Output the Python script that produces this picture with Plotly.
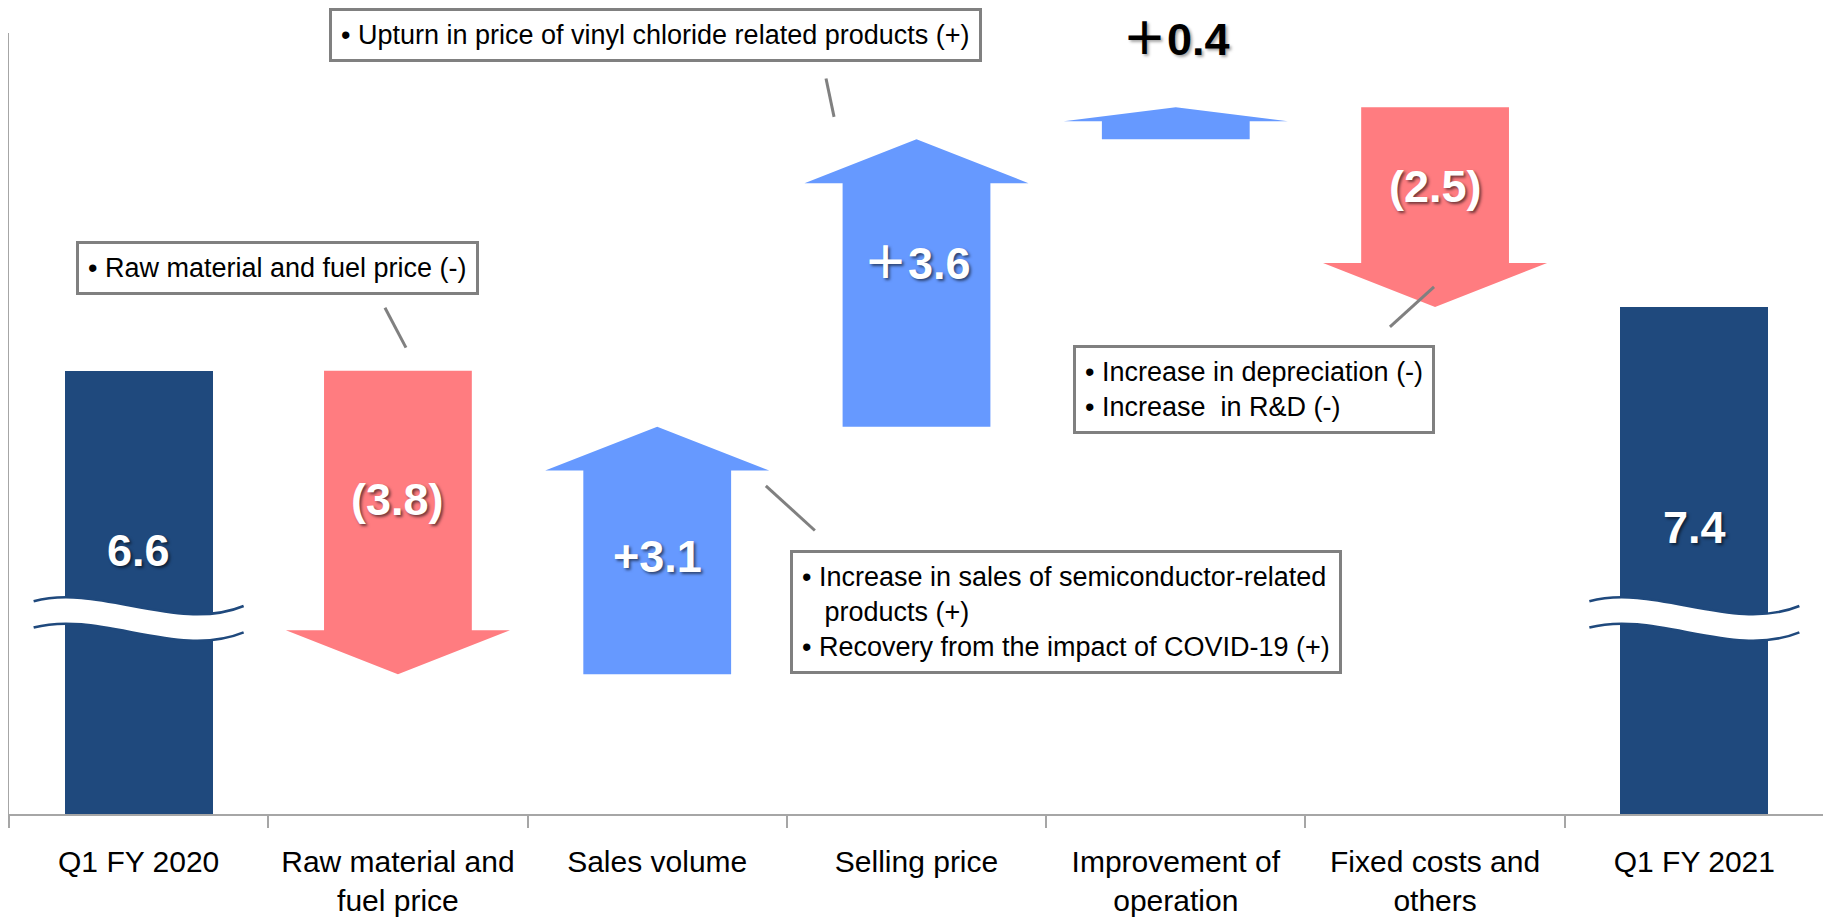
import plotly.graph_objects as go

# ---- data -------------------------------------------------------------
categories = [
    "Q1 FY 2020",
    "Raw material and<br>fuel price",
    "Sales volume",
    "Selling price",
    "Improvement of<br>operation",
    "Fixed costs and<br>others",
    "Q1 FY 2021",
]
start_value = 6.6
end_value = 7.4
changes = [-3.8, 3.1, 3.6, 0.4, -2.5]
value_labels = ["6.6", "(3.8)", "+3.1", "＋3.6", "＋0.4", "(2.5)", "7.4"]

callouts = [
    "• Raw material and fuel price (-)",
    "• Upturn in price of vinyl chloride related products (+)",
    "• Increase in sales of semiconductor-related<br>"
    "\u00a0\u00a0 products (+)<br>• Recovery from the impact of COVID-19 (+)",
    "• Increase in depreciation (-)<br>• Increase \u00a0in R&amp;D (-)",
]

# ---- style ------------------------------------------------------------
NAVY = "#1F497D"
UP = "#6699FF"
DOWN = "#FF7C80"
GRAY = "#808080"
AXIS = "#A6A6A6"
FONT = "Liberation Sans, Arial, Noto Sans CJK JP, sans-serif"

BAR_W = 0.57
SHAFT = 0.285
WING = 0.432
HEAD = 0.55

# label positions (y in axis units) and callout placement
label_y = [4.35, 4.99, 4.28, 7.94, 10.75, 8.91, 4.64]
callout_pos = [(0.534, 7.89, "center"), (1.993, 10.80, "center"),
               (2.512, 3.58, "left"), (4.303, 6.36, "center")]
leaders = [((0.950, 7.39), (1.031, 6.89)), ((2.651, 10.26), (2.682, 9.78)),
           ((2.419, 5.16), (2.608, 4.60)), ((4.996, 7.65), (4.826, 7.15))]
break_y = 3.55

fig = go.Figure()

# start / end bars (axis is broken, bars run below the visible range)
fig.add_trace(go.Bar(
    x=[0, len(categories) - 1], y=[start_value, end_value], width=BAR_W,
    marker=dict(color=NAVY, line=dict(width=0)),
    hoverinfo="skip", showlegend=False,
))

# arrows for each change
level = start_value
for i, d in enumerate(changes):
    cx = i + 1
    end = level + d
    sgn = 1 if d > 0 else -1
    hl = min(HEAD, 0.44 * abs(d))
    neck = end - sgn * hl
    xs = [cx - SHAFT, cx - SHAFT, cx - WING, cx, cx + WING, cx + SHAFT, cx + SHAFT, cx - SHAFT]
    ys = [level, neck, neck, end, neck, neck, level, level]
    fig.add_trace(go.Scatter(
        x=xs, y=ys, mode="lines", fill="toself",
        fillcolor=UP if d > 0 else DOWN, line=dict(width=0),
        hoverinfo="skip", showlegend=False,
    ))
    level = end

# value labels
shadow = "2px 2px 3px rgba(0,0,0,0.55)"
for i, txt in enumerate(value_labels):
    dark = i == 4
    fig.add_annotation(
        x=i, y=label_y[i], text=txt, showarrow=False,
        font=dict(family=FONT, size=45, weight="bold",
                  color="black" if dark else "white",
                  shadow="2px 2px 3px rgba(0,0,0,0.35)" if dark else shadow),
    )

# callout boxes
for txt, (x, y, al) in zip(callouts, callout_pos):
    fig.add_annotation(
        x=x, y=y, text=txt, showarrow=False, align="left",
        xanchor=al, yanchor="middle",
        font=dict(family=FONT, size=27, color="black"),
        bgcolor="white", bordercolor=GRAY, borderwidth=3, borderpad=9,
    )

for (x0, y0), (x1, y1) in leaders:
    fig.add_shape(type="line", x0=x0, y0=y0, x1=x1, y1=y1,
                  line=dict(color=GRAY, width=3))


# axis break marks on the two total bars
def wave(cx, y0):
    w = 0.405
    return (f"M{cx - w},{y0} C{cx - 0.15},{y0 + 0.22} {cx + 0.15},{y0 - 0.40} "
            f"{cx + w},{y0 - 0.06}")


def wave_back(cx, y0):
    w = 0.405
    return (f"L{cx + w},{y0 - 0.06} C{cx + 0.15},{y0 - 0.40} {cx - 0.15},{y0 + 0.22} "
            f"{cx - w},{y0} Z")


for cx in [0, len(categories) - 1]:
    top, bot = break_y + 0.165, break_y - 0.165
    fig.add_shape(type="path", path=wave(cx, top) + " " + wave_back(cx, bot),
                  fillcolor="white", line=dict(width=0))
    for yy in (top, bot):
        fig.add_shape(type="path", path=wave(cx, yy),
                      fillcolor="rgba(0,0,0,0)", line=dict(color=NAVY, width=2.5))

# the page body adds an 8px offset, margins compensate for it
fig.update_layout(
    width=1831, height=921,
    margin=dict(l=1, r=15, t=25, b=115, pad=0),
    paper_bgcolor="white", plot_bgcolor="white",
    bargap=0,
)
fig.update_xaxes(
    range=[-0.5, len(categories) - 0.5], automargin=False,
    tickvals=list(range(len(categories))), ticktext=categories,
    ticks="", showgrid=False, zeroline=False,
    showline=True, linecolor=AXIS, linewidth=1.5,
    tickfont=dict(family=FONT, size=30, color="black"),
    ticklabelstandoff=20,
    minor=dict(ticks="outside", tick0=-0.5, dtick=1, ticklen=12,
               tickcolor=AXIS, tickwidth=1.5, showgrid=False),
)
fig.update_yaxes(
    range=[1.05, 10.83], automargin=False, showgrid=False, zeroline=False,
    showticklabels=False, showline=True, linecolor=AXIS, linewidth=1.5,
)

fig.write_html("out.html")
